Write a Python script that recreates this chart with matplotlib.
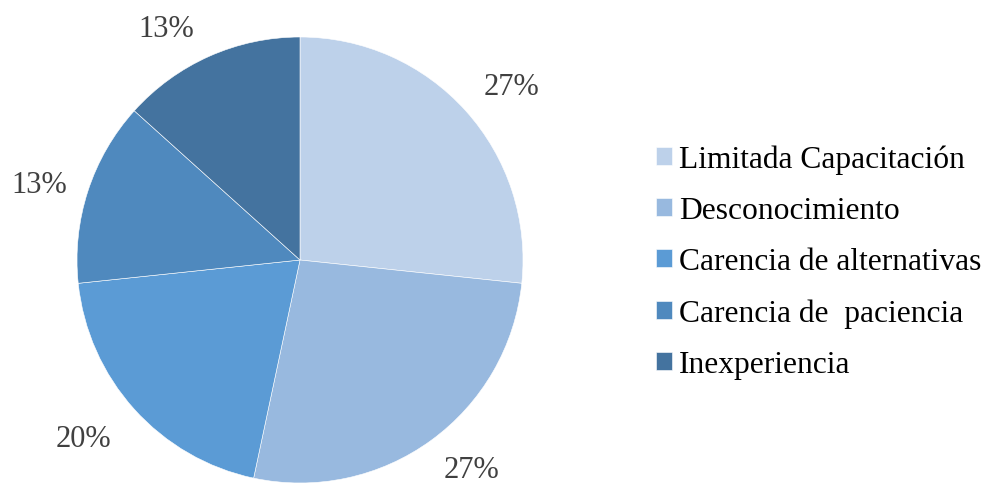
import numpy as np
import matplotlib.pyplot as plt

categorias = ["Limitada Capacitación", "Desconocimiento", "Carencia de alternativas",
              "Carencia de  paciencia", "Inexperiencia"]
valores = [4, 4, 3, 2, 2]
colores = ["#BDD1EA", "#98B9DF", "#5B9BD5", "#4F89BE", "#44739F"]

# posicion de las etiquetas (en radios del pastel), como las pone Excel
pos_etiquetas = [(0.95, 0.78), (0.77, -0.94), (-0.97, -0.80), (-1.17, 0.34), (-0.60, 1.04)]

plt.rcParams['font.family'] = ['Liberation Serif', 'DejaVu Serif']

fig = plt.figure(figsize=(9.88, 4.85), dpi=100)
r = 223
ax = fig.add_axes([(300 - r) / 988, (485 - 261 - r) / 485, 2 * r / 988, 2 * r / 485])

wedges, textos, autotextos = ax.pie(valores, colors=colores, startangle=90, counterclock=False,
                                    autopct=lambda p: "%d%%" % round(p), pctdistance=1.2,
                                    wedgeprops=dict(linewidth=0.4, edgecolor="white"),
                                    textprops=dict(fontsize=22, color="#404040"))
for t, p in zip(autotextos, pos_etiquetas):
    t.set_position(p)
    t.set_clip_on(False)
ax.set_xlim(-1, 1)
ax.set_ylim(-1, 1)
ax.set_aspect("equal")

fig.legend(wedges, categorias, loc="center left", bbox_to_anchor=(656 / 988, 1 - 263 / 485),
           frameon=False, fontsize=22.7, handlelength=0.5, handleheight=0.5,
           handletextpad=0.22, labelspacing=0.7, borderpad=0, borderaxespad=0)

fig.savefig("out.png", dpi=100)
